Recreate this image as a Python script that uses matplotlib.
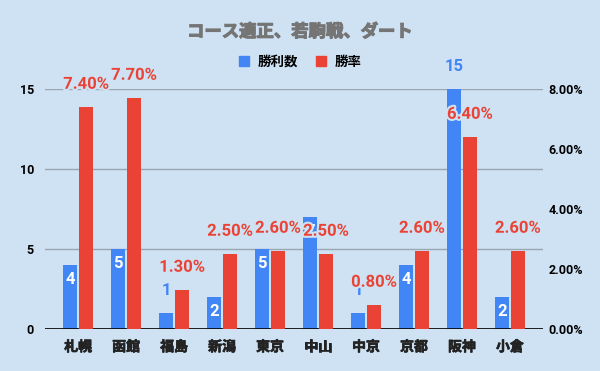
import matplotlib
matplotlib.use('Agg')
import matplotlib.pyplot as plt
import matplotlib.patheffects as pe
from matplotlib.patches import Patch
from matplotlib.ticker import FuncFormatter
import numpy as np

# chart data
courses = ['札幌', '函館', '福島', '新潟', '東京', '中山', '中京', '京都', '阪神', '小倉']
wins = [4, 5, 1, 2, 5, 7, 1, 4, 15, 2]
win_rate = [7.40, 7.70, 1.30, 2.50, 2.60, 2.50, 0.80, 2.60, 6.40, 2.60]
# wins drawn above the bar instead of inside
wins_outside = [False, False, True, False, False, False, True, False, True, False]

bg = '#cfe2f3'
blue = '#4285f4'
red = '#ea4335'

plt.rcParams['font.family'] = ['Roboto', 'Noto Sans CJK JP', 'DejaVu Sans']

fig = plt.figure(figsize=(6, 3.71), dpi=100, facecolor=bg)
ax1 = fig.add_axes([0.075, 0.1132, 0.83, 0.6468])
ax1.set_facecolor(bg)
ax2 = ax1.twinx()

x = np.arange(len(courses))
w = 0.29
off = 0.165

ax1.bar(x - off, wins, w, color=blue, zorder=3)
ax2.bar(x + off, win_rate, w, color=red, zorder=3)

ax1.set_xlim(-0.69, 9.69)
ax1.set_ylim(0, 15)
ax2.set_ylim(0, 8)
ax1.set_yticks([0, 5, 10, 15])
ax2.set_yticks([0, 2, 4, 6, 8])
ax2.yaxis.set_major_formatter(FuncFormatter(lambda v, p: '%.2f%%' % v))

ax1.grid(axis='y', color='#9aa6b2', linewidth=1, zorder=0)
ax1.set_axisbelow(True)
for a in (ax1, ax2):
    for s in a.spines.values():
        s.set_visible(False)
    a.tick_params(length=0)
ax1.axhline(0, color='black', linewidth=1.2, zorder=4)

ax1.set_xticks(x)
ax1.set_xticklabels(courses, fontsize=10, fontweight='bold', color='#222222')
for lab in ax1.get_xticklabels():
    lab.set_path_effects([pe.withStroke(linewidth=0.5, foreground='#222222')])
ax1.tick_params(axis='x', pad=8)
ax1.tick_params(axis='y', labelsize=9, pad=8)
ax2.tick_params(axis='y', labelsize=9, pad=4)
for lab in ax1.get_yticklabels() + ax2.get_yticklabels():
    lab.set_fontweight('bold')

# win count labels
for xi, v, out in zip(x, wins, wins_outside):
    if out:
        ax1.annotate(str(v), (xi - off, v), xytext=(0, 11), textcoords='offset points',
                     ha='center', va='bottom', color=blue, fontsize=12,
                     fontweight='bold', zorder=5, annotation_clip=False)
    else:
        ax1.annotate(str(v), (xi - off, v), xytext=(0, -5), textcoords='offset points',
                     ha='center', va='top', color='white', fontsize=12,
                     fontweight='bold', zorder=5)

# win rate labels, with a halo in the background colour
halo = [pe.withStroke(linewidth=3, foreground=bg)]
for xi, v in zip(x, win_rate):
    ax2.annotate('%.2f%%' % v, (xi + off, v), xytext=(0, 11), textcoords='offset points',
                 ha='center', va='bottom', color=red, fontsize=12,
                 fontweight='bold', zorder=6, path_effects=halo,
                 annotation_clip=False)

fig.text(0.5, 0.916, 'コース適正、若駒戦、ダート', ha='center', va='center',
         fontsize=12.5, fontweight='bold', color='#757575',
         path_effects=[pe.withStroke(linewidth=0.8, foreground='#757575')])

handles = [Patch(color=blue, label='勝利数'), Patch(color=red, label='勝率')]
fig.legend(handles=handles, loc='center', bbox_to_anchor=(0.5, 0.832), ncol=2,
           frameon=False, prop={'size': 9.7, 'weight': 'bold'},
           handlelength=0.8, handleheight=0.8,
           handletextpad=0.6, columnspacing=1.3)

fig.savefig('out.png', dpi=100, facecolor=bg)
